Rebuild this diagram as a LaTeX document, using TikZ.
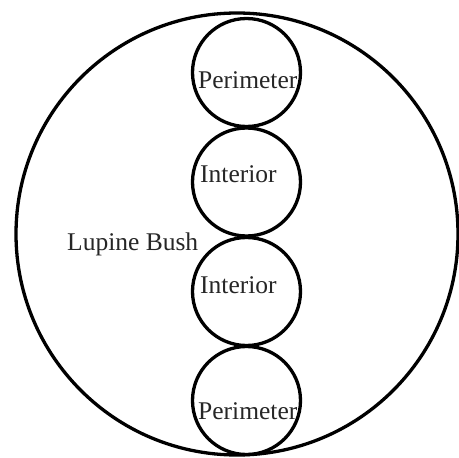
\documentclass[tikz,border=0pt]{standalone}
\usepackage{fontspec}
\setmainfont{Liberation Serif}
\begin{document}
\begin{tikzpicture}[x=1pt,y=-1pt,
  ring/.style={draw=black,line width=3.3pt,circle,inner sep=0pt,minimum size=108pt},
  bush/.style={draw=black,line width=3.3pt,circle,inner sep=0pt,minimum size=442pt},
  lbl/.style={inner sep=0pt,anchor=base west,text=black!85,font=\fontsize{25.5}{30}\selectfont}]
\useasboundingbox (0,0) rectangle (459,458);
\node[bush] (big) at (237,234) {};
\node[ring] (c1) at (246.5,72.5) {};
\node[ring] (c2) at (246.5,182) {};
\node[ring] (c3) at (246.5,291.5) {};
\node[ring] (c4) at (246.5,400.5) {};
\node[lbl] (t1) at (198,88) {Perimeter};
\node[lbl] (t2) at (200,182) {Interior};
\node[lbl] (t3) at (200,293) {Interior};
\node[lbl] (t4) at (198,419) {Perimeter};
\node[lbl] (t0) at (67,250) {Lupine Bush};
\end{tikzpicture}
\end{document}
